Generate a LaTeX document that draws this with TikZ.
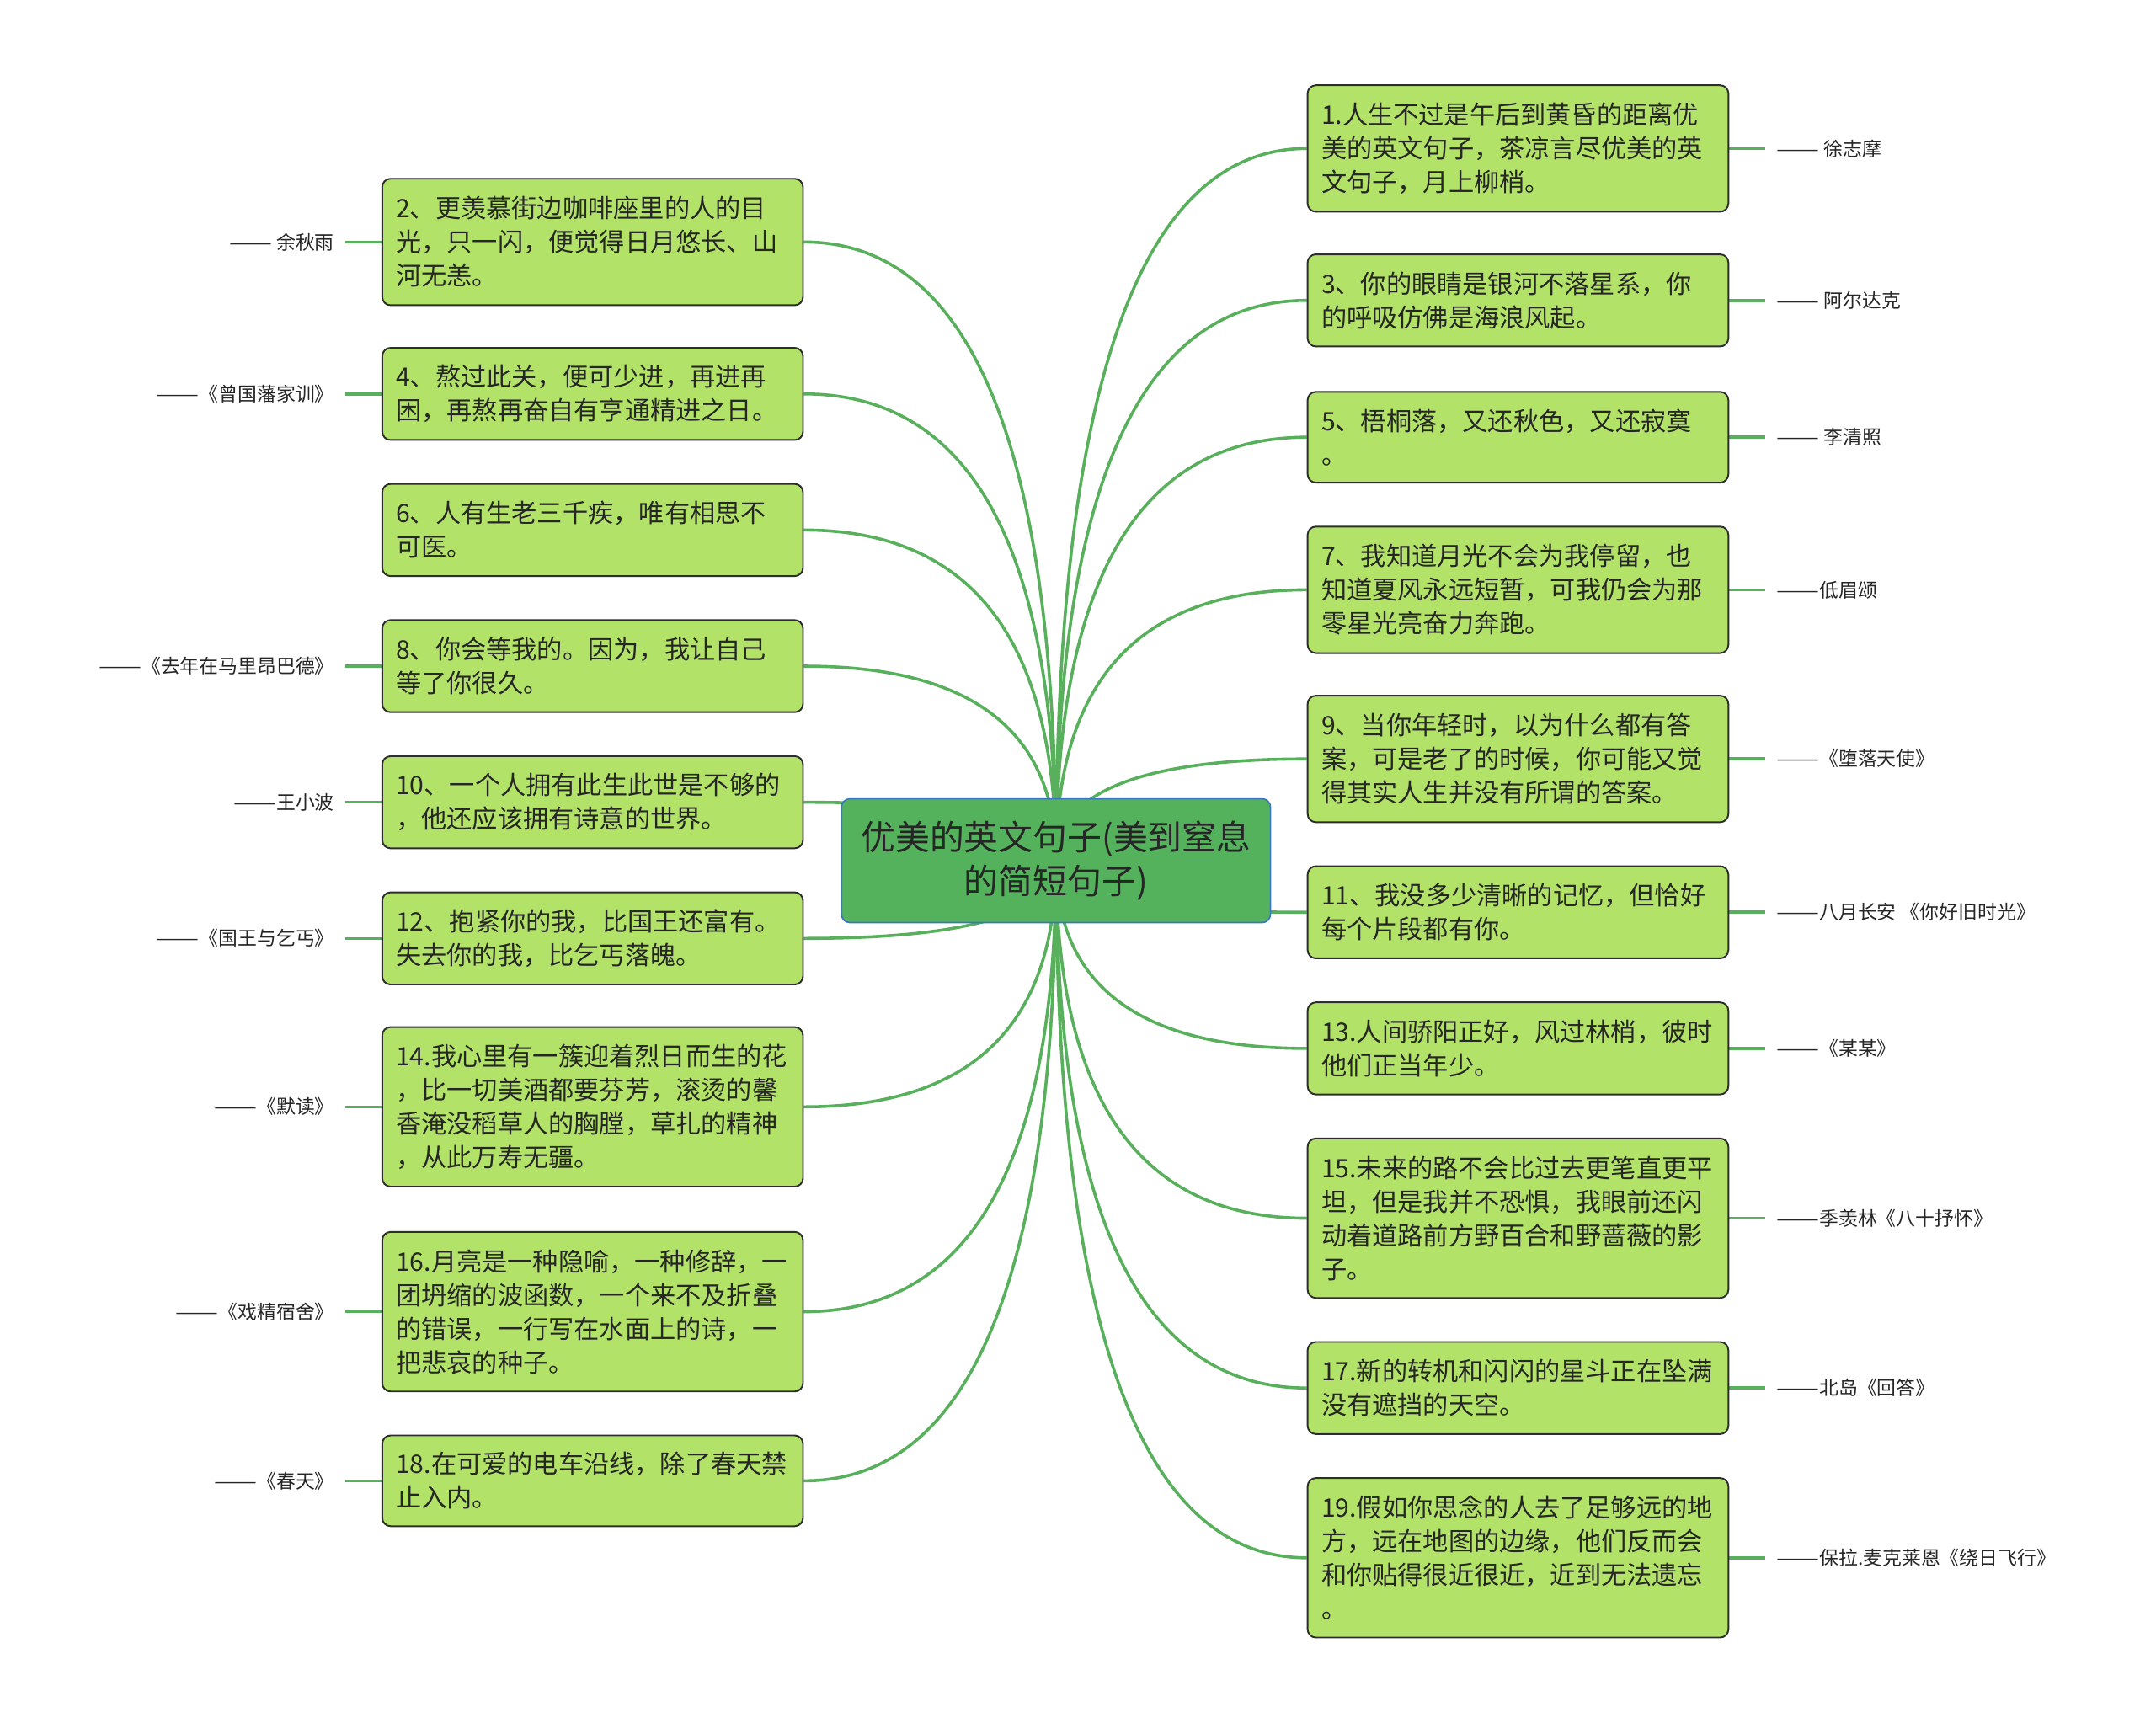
\documentclass[tikz,border=0pt]{standalone}
\usepackage{fontspec}
\setmainfont{Noto Sans CJK SC}
\usetikzlibrary{calc}
\pgfdeclarelayer{bg}
\pgfsetlayers{bg,main}
\definecolor{boxfill}{RGB}{178,227,104}
\definecolor{boxline}{RGB}{45,45,45}
\definecolor{linkc}{RGB}{88,175,92}
\definecolor{rootfill}{RGB}{84,177,92}
\definecolor{rootline}{RGB}{58,118,196}
\definecolor{txt}{RGB}{38,38,38}
\tikzset{
  leaf/.style={draw=boxline, line width=1.2pt, fill=boxfill, rounded corners=6pt,
    text width=286pt, inner xsep=10pt, inner ysep=0pt, align=left,
    font=\fontsize{18.5}{24.5}\selectfont, text=txt},
  rootnode/.style={draw=rootline, line width=1pt, fill=rootfill, rounded corners=6pt,
    minimum width=312pt, minimum height=90pt, align=center, inner sep=0pt,
    font=\fontsize{25}{32}\selectfont, text=txt},
  lab/.style={font=\fontsize{14}{16}\selectfont, text=txt, inner xsep=0pt, inner ysep=2pt, outer xsep=8pt},
  lnk/.style={draw=linkc, line width=2.2pt},
}
\newcommand{\dd}{\scalebox{1.33}[1]{——}}
\newcommand{\mmlink}[1]{%
  \coordinate (kk) at (root.center|-#1);
  \draw[lnk] (root.center) .. controls ($(root.center)!0.6667!(kk)$) and ($(#1)!0.6667!(kk)$) .. (#1);}
\begin{document}
\begin{tikzpicture}[x=1pt,y=-1pt]
\useasboundingbox (0,0) rectangle (1568,1253);
\begin{pgfonlayer}{bg}
\fill[white] (0,0) rectangle (1568,1253);
\end{pgfonlayer}

\node[rootnode] (root) at (768,626) {优美的英文句子(美到窒息\\的简短句子)};

% right side
\node[leaf, minimum height=92pt] (b1) at (1104,108) {1.人生不过是午后到黄昏的距离优\\美的英文句子，茶凉言尽优美的英\\文句子，月上柳梢。};
\node[leaf, minimum height=67pt] (b3) at (1104,218.5) {3、你的眼睛是银河不落星系，你\\的呼吸仿佛是海浪风起。};
\node[leaf, minimum height=66pt] (b5) at (1104,318) {5、梧桐落，又还秋色，又还寂寞\\。};
\node[leaf, minimum height=92pt] (b7) at (1104,429) {7、我知道月光不会为我停留，也\\知道夏风永远短暂，可我仍会为那\\零星光亮奋力奔跑。};
\node[leaf, minimum height=92pt] (b9) at (1104,552) {9、当你年轻时，以为什么都有答\\案，可是老了的时候，你可能又觉\\得其实人生并没有所谓的答案。};
\node[leaf, minimum height=67pt] (b11) at (1104,663.5) {11、我没多少清晰的记忆，但恰好\\每个片段都有你。};
\node[leaf, minimum height=67pt] (b13) at (1104,762.5) {13.人间骄阳正好，风过林梢，彼时\\他们正当年少。};
\node[leaf, minimum height=116pt] (b15) at (1104,886) {15.未来的路不会比过去更笔直更平\\坦，但是我并不恐惧，我眼前还闪\\动着道路前方野百合和野蔷薇的影\\子。};
\node[leaf, minimum height=67pt] (b17) at (1104,1009.5) {17.新的转机和闪闪的星斗正在坠满\\没有遮挡的天空。};
\node[leaf, minimum height=116pt] (b19) at (1104,1133) {19.假如你思念的人去了足够远的地\\方，远在地图的边缘，他们反而会\\和你贴得很近很近，近到无法遗忘\\。};

% left side
\node[leaf, minimum height=92pt] (b2) at (431,176) {2、更羡慕街边咖啡座里的人的目\\光，只一闪，便觉得日月悠长、山\\河无恙。};
\node[leaf, minimum height=67pt] (b4) at (431,286.5) {4、熬过此关，便可少进，再进再\\困，再熬再奋自有亨通精进之日。};
\node[leaf, minimum height=67pt] (b6) at (431,385.5) {6、人有生老三千疾，唯有相思不\\可医。};
\node[leaf, minimum height=67pt] (b8) at (431,484.5) {8、你会等我的。因为，我让自己\\等了你很久。};
\node[leaf, minimum height=67pt] (b10) at (431,583.5) {10、一个人拥有此生此世是不够的\\，他还应该拥有诗意的世界。};
\node[leaf, minimum height=67pt] (b12) at (431,682.5) {12、抱紧你的我，比国王还富有。\\失去你的我，比乞丐落魄。};
\node[leaf, minimum height=116pt] (b14) at (431,805) {14.我心里有一簇迎着烈日而生的花\\，比一切美酒都要芬芳，滚烫的馨\\香淹没稻草人的胸膛，草扎的精神\\，从此万寿无疆。};
\node[leaf, minimum height=116pt] (b16) at (431,954) {16.月亮是一种隐喻，一种修辞，一\\团坍缩的波函数，一个来不及折叠\\的错误，一行写在水面上的诗，一\\把悲哀的种子。};
\node[leaf, minimum height=66pt] (b18) at (431,1077) {18.在可爱的电车沿线，除了春天禁\\止入内。};

% labels right
\node[lab, anchor=west] (l1) at (1284,108) {\dd{} 徐志摩};
\node[lab, anchor=west] (l3) at (1284,218.5) {\dd{} 阿尔达克};
\node[lab, anchor=west] (l5) at (1284,318) {\dd{} 李清照};
\node[lab, anchor=west] (l7) at (1284,429) {\dd{}低眉颂};
\node[lab, anchor=west] (l9) at (1284,552) {\dd{}《堕落天使》};
\node[lab, anchor=west] (l11) at (1284,663.5) {\dd{}八月长安 《你好旧时光》};
\node[lab, anchor=west] (l13) at (1284,762.5) {\dd{}《某某》};
\node[lab, anchor=west] (l15) at (1284,886) {\dd{}季羡林《八十抒怀》};
\node[lab, anchor=west] (l17) at (1284,1009.5) {\dd{}北岛《回答》};
\node[lab, anchor=west] (l19) at (1284,1133) {\dd{}保拉.麦克莱恩《绕日飞行》};

% labels left
\node[lab, anchor=east] (l2) at (251,176) {\dd{} 余秋雨};
\node[lab, anchor=east] (l4) at (251,286.5) {\dd{}《曾国藩家训》};
\node[lab, anchor=east] (l8) at (251,484.5) {\dd{}《去年在马里昂巴德》};
\node[lab, anchor=east] (l10) at (251,583.5) {\dd{}王小波};
\node[lab, anchor=east] (l12) at (251,682.5) {\dd{}《国王与乞丐》};
\node[lab, anchor=east] (l14) at (251,805) {\dd{}《默读》};
\node[lab, anchor=east] (l16) at (251,954) {\dd{}《戏精宿舍》};
\node[lab, anchor=east] (l18) at (251,1077) {\dd{}《春天》};

\begin{pgfonlayer}{bg}
\foreach \b in {b1,b3,b5,b7,b9,b11,b13,b15,b17,b19}{\mmlink{\b.west}}
\foreach \b in {b2,b4,b6,b8,b10,b12,b14,b16,b18}{\mmlink{\b.east}}
\foreach \n in {1,3,5,7,9,11,13,15,17,19}{\draw[lnk] (b\n.east) -- (l\n.west);}
\foreach \n in {2,4,8,10,12,14,16,18}{\draw[lnk] (b\n.west) -- (l\n.east);}
\end{pgfonlayer}
\end{tikzpicture}
\end{document}
